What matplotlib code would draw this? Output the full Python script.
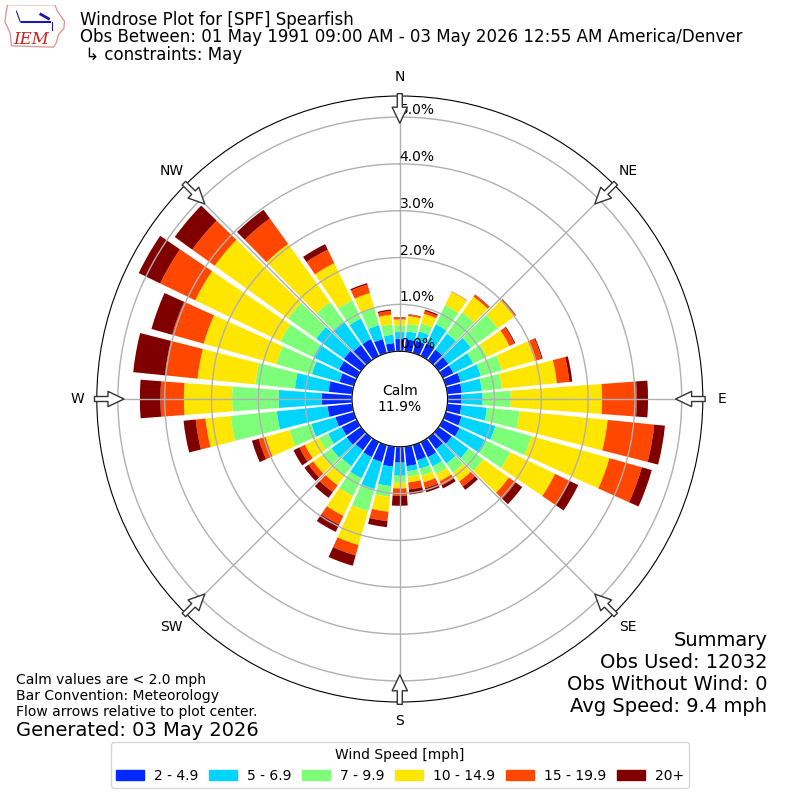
import numpy as np
import matplotlib.pyplot as plt
from matplotlib.patches import Patch, Polygon

# wind directions (deg, meteorological) and speed bins
directions = np.arange(0, 360, 10)
speed_labels = ["2 - 4.9", "5 - 6.9", "7 - 9.9", "10 - 14.9", "15 - 19.9", "20+"]

# cumulative frequency (%) at the top of each speed bin, read per direction
top_2_4 = [0.26, 0.26, 0.27, 0.30, 0.28, 0.26, 0.25, 0.33, 0.31, 0.29,
           0.30, 0.35, 0.40, 0.35, 0.30, 0.36, 0.34, 0.42, 0.34, 0.43,
           0.38, 0.36, 0.33, 0.38, 0.36, 0.41, 0.53, 0.65, 0.51, 0.32,
           0.42, 0.45, 0.40, 0.40, 0.31, 0.18]
top_5_6 = [0.41, 0.43, 0.48, 0.75, 0.70, 0.85, 0.72, 0.78, 0.74, 0.75,
           0.85, 1.10, 1.03, 0.79, 0.68, 0.58, 0.53, 0.53, 0.62, 0.85,
           0.98, 0.86, 0.75, 0.78, 0.68, 0.94, 1.62, 1.57, 1.23, 0.93,
           1.03, 1.18, 1.02, 0.89, 0.62, 0.36]
top_7_9 = [0.55, 0.59, 0.66, 1.20, 1.26, 1.56, 1.05, 1.24, 1.17, 1.35,
           1.55, 1.90, 1.60, 1.18, 0.92, 0.76, 0.68, 0.65, 0.77, 1.08,
           1.47, 1.28, 1.00, 1.03, 0.90, 1.43, 2.61, 2.56, 2.08, 1.72,
           1.81, 1.92, 1.53, 1.32, 0.99, 0.58]
top_10_14 = [0.68, 0.76, 0.87, 1.52, 1.67, 2.00, 1.58, 1.98, 2.35, 3.30,
             3.44, 3.63, 2.66, 1.85, 1.15, 0.93, 0.83, 0.77, 0.89, 1.40,
             2.22, 1.75, 1.25, 1.26, 1.23, 1.96, 3.15, 3.59, 3.32, 3.33,
             3.83, 3.85, 3.06, 2.20, 1.33, 0.79]
top_15_19 = [0.72, 0.79, 0.93, 1.53, 1.72, 2.03, 1.70, 2.13, 2.62, 4.04,
             4.44, 4.35, 3.00, 2.03, 1.28, 1.03, 0.96, 0.92, 1.05, 1.60,
             2.45, 1.96, 1.43, 1.38, 1.36, 2.11, 3.36, 4.09, 4.02, 4.03,
             4.66, 4.44, 3.73, 2.52, 1.52, 0.87]
top_20 = [0.73, 0.80, 0.96, 1.53, 1.73, 2.04, 1.72, 2.15, 2.68, 4.28,
          4.67, 4.57, 3.21, 2.20, 1.37, 1.10, 1.05, 1.03, 1.26, 1.73,
          2.68, 2.13, 1.58, 1.49, 1.50, 2.26, 3.62, 4.53, 4.70, 4.49,
          5.17, 4.90, 3.96, 2.65, 1.55, 0.90]

calm_pct = 11.9
rticks = [0, 1, 2, 3, 4, 5]
compass = ["N", "NE", "E", "SE", "S", "SW", "W", "NW"]

colors = plt.get_cmap("jet")(np.linspace(0, 1, 7)[1:])

fig = plt.figure(figsize=(8, 8), dpi=100)
ax = fig.add_axes([0.121, 0.1225, 0.7575, 0.7575], projection="polar")
ax.set_theta_zero_location("N")
ax.set_theta_direction(-1)

theta = np.deg2rad(directions)
width = np.deg2rad(10) * 0.85
base = np.zeros(len(directions))
for top, color, label in zip([top_2_4, top_5_6, top_7_9, top_10_14, top_15_19, top_20],
                             colors, speed_labels):
    top = np.array(top)
    ax.bar(theta, top - base, width=width, bottom=base, color=color, label=label)
    base = top

ax.set_rorigin(-1.02)
ax.set_ylim(0, 5.45)
ax.set_yticks(rticks)
ax.set_yticklabels(["%.1f%%" % r for r in rticks])
ax.set_rlabel_position(0)
ax.set_xticks(np.deg2rad(np.arange(0, 360, 45)))
ax.set_xticklabels(compass)
ax.grid(True, color="#b0b0b0", lw=1)

# flow arrows
for ang in np.arange(0, 360, 45):
    ax.annotate("", xy=(np.deg2rad(ang), 4.87), xytext=(np.deg2rad(ang), 5.5),
                arrowprops=dict(arrowstyle="simple,head_length=1.15,head_width=1.1,tail_width=0.36",
                                fc="white", ec="#333333", lw=1, shrinkA=0, shrinkB=0),
                annotation_clip=False)

ax.text(0.5, 0.5, "Calm\n%.1f%%" % calm_pct, transform=ax.transAxes,
        ha="center", va="center", fontsize=10)

# header
fig.text(0.1, 0.975, "Windrose Plot for [SPF] Spearfish", fontsize=12, va="center")
fig.text(0.1, 0.954, "Obs Between: 01 May 1991 09:00 AM - 03 May 2026 12:55 AM America/Denver",
         fontsize=12, va="center")
fig.text(0.1, 0.931, " ↳ constraints: May", fontsize=12, va="center")

# logo (rough Iowa outline)
lax = fig.add_axes([0.003, 0.94, 0.08, 0.054])
lax.set_xlim(0, 1)
lax.set_ylim(0, 1)
lax.axis("off")
lax.add_patch(Polygon([[0.08, 1.0], [0.82, 1.0], [0.86, 0.85], [0.97, 0.62], [0.96, 0.45],
                       [0.88, 0.32], [0.84, 0.12], [0.8, 0.02], [0.14, 0.05],
                       [0.12, 0.35], [0.04, 0.6], [0.06, 0.85]], closed=True,
                      fill=False, ec="#e09090", lw=0.9))
lax.plot([0.3, 0.75], [0.6, 0.6], color="#1a1ab0", lw=1.5)
lax.plot([0.28, 0.22], [0.6, 0.85], color="#1a1ab0", lw=0.8)
lax.plot([0.6, 0.72], [0.78, 0.68], color="#1a1ab0", lw=2)
lax.plot([0.78, 0.78], [0.6, 0.42], color="#1a1ab0", lw=0.8)
lax.text(0.45, 0.2, "IEM", color="#cc2020", fontsize=12, family="serif",
         style="italic", ha="center", va="center")

# notes
fig.text(0.02, 0.15, "Calm values are < 2.0 mph", fontsize=10, va="center")
fig.text(0.02, 0.13, "Bar Convention: Meteorology", fontsize=10, va="center")
fig.text(0.02, 0.11, "Flow arrows relative to plot center.", fontsize=10, va="center")
fig.text(0.02, 0.0875, "Generated: 03 May 2026", fontsize=14, va="center")

fig.text(0.959, 0.2, "Summary", fontsize=14, ha="right", va="center")
fig.text(0.959, 0.1725, "Obs Used: 12032", fontsize=14, ha="right", va="center")
fig.text(0.959, 0.145, "Obs Without Wind: 0", fontsize=14, ha="right", va="center")
fig.text(0.959, 0.1175, "Avg Speed: 9.4 mph", fontsize=14, ha="right", va="center")

handles = [Patch(color=c, label=l) for c, l in zip(colors, speed_labels)]
fig.legend(handles=handles, loc="lower center", bbox_to_anchor=(0.5, 0.006), ncol=6,
           title="Wind Speed [mph]", fontsize=10, title_fontsize=10,
           columnspacing=0.8, handletextpad=0.7)

fig.savefig("out.png", dpi=100)
